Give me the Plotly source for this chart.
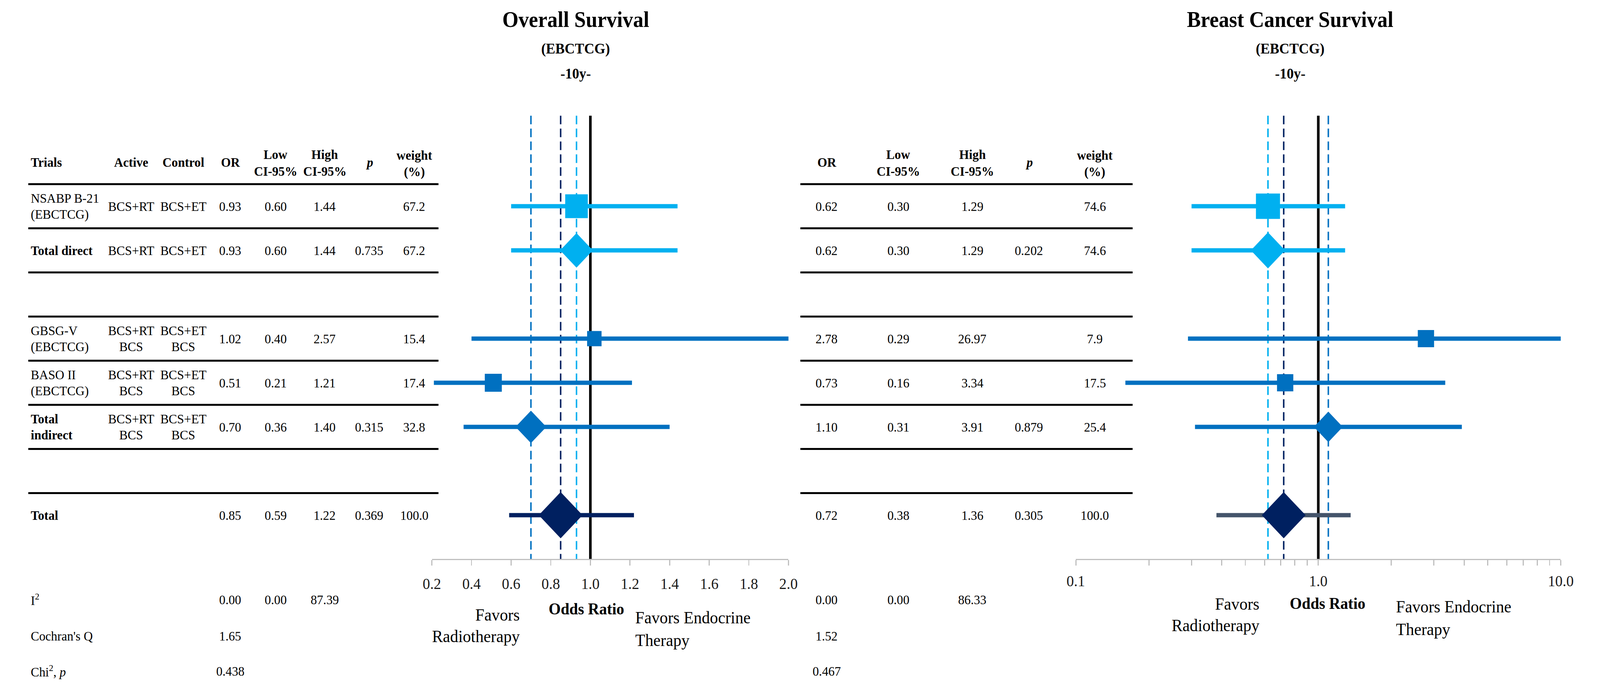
import math
import plotly.graph_objects as go

# ---------------- data ----------------
row_names = ["NSABP B-21|(EBCTCG)", "Total direct", "", "GBSG-V|(EBCTCG)",
             "BASO II|(EBCTCG)", "Total|indirect", "", "Total"]
row_bold = [False, True, False, False, False, True, False, True]
active = ["BCS+RT", "BCS+RT", "", "BCS+RT|BCS", "BCS+RT|BCS", "BCS+RT|BCS", "", ""]
control = ["BCS+ET", "BCS+ET", "", "BCS+ET|BCS", "BCS+ET|BCS", "BCS+ET|BCS", "", ""]
row_kind = ["study", "pooled", None, "study", "study", "pooled", None, "pooled"]
row_group = ["direct", "direct", None, "indirect", "indirect", "indirect", None, "total"]

# Overall survival (left)
os_or = [0.93, 0.93, None, 1.02, 0.51, 0.70, None, 0.85]
os_low = [0.60, 0.60, None, 0.40, 0.21, 0.36, None, 0.59]
os_high = [1.44, 1.44, None, 2.57, 1.21, 1.40, None, 1.22]
os_p = [None, 0.735, None, None, None, 0.315, None, 0.369]
os_weight = [67.2, 67.2, None, 15.4, 17.4, 32.8, None, 100.0]
os_i2 = [0.00, 0.00, 87.39]
os_q = 1.65
os_chi_p = 0.438

# Breast cancer survival (right)
bcs_or = [0.62, 0.62, None, 2.78, 0.73, 1.10, None, 0.72]
bcs_low = [0.30, 0.30, None, 0.29, 0.16, 0.31, None, 0.38]
bcs_high = [1.29, 1.29, None, 26.97, 3.34, 3.91, None, 1.36]
bcs_p = [None, 0.202, None, None, None, 0.879, None, 0.305]
bcs_weight = [74.6, 74.6, None, 7.9, 17.5, 25.4, None, 100.0]
bcs_i2 = [0.00, 0.00, 86.33]
bcs_q = 1.52
bcs_chi_p = 0.467

stat_labels = ["I<sup>2</sup>", "Cochran's Q", "Chi<sup>2</sup>, <i>p</i>"]

os_ticks = [0.2, 0.4, 0.6, 0.8, 1.0, 1.2, 1.4, 1.6, 1.8, 2.0]
bcs_ticks = [0.1, 0.2, 0.3, 0.4, 0.5, 0.6, 0.7, 0.8, 0.9, 1, 2, 3, 4, 5, 6, 7, 8, 9, 10]
bcs_major = [0.1, 1.0, 10.0]

# ---------------- layout constants (pixels) ----------------
W, H = 4322, 1782
ROW0, ROW_H = 528, 113
FONT = "Liberation Serif"
AX_ROW = 8.0            # row coordinate of the x axis line
LINE_TOP = -2.05        # row coordinate where vertical reference lines start

L_DOM = (1155, 2129.5)
R_DOM = (2915, 4240)

L_COLS = dict(name=57, active=333, control=476, OR=604, low=728, high=862, p=984, w=1107)
R_COLS = dict(OR=2234, low=2430, high=2632, p=2787, w=2967)
L_TABLE = (52, 1173)
R_TABLE = (2162, 3070)

COL = {"direct": "#00B0F0", "indirect": "#0070C0", "total": "#002060"}
L_SIZES = [61, 68, None, 39, 46, 64, None, 91]
R_SIZES = [65, 71, None, 44, 44, 60, None, 91]
L_CI_COL = {"direct": "#00B0F0", "indirect": "#0070C0", "total": "#002060"}
R_CI_COL = {"direct": "#00B0F0", "indirect": "#0070C0", "total": "#44546A"}


def row_of(px):
    return (px - ROW0) / ROW_H


fig = go.Figure()
ann = []
shapes = []


def text(t, xpx, yrow, size=34, bold=False, anchor="center", color="black"):
    if bold:
        t = "<b>" + t + "</b>"
    ann.append(dict(text=t, x=xpx / W, xref="paper", y=yrow, yref="y",
                    xanchor=anchor, yanchor="middle", showarrow=False,
                    font=dict(family=FONT, size=size, color=color)))


def cell(t, xpx, row, bold=False, anchor="center"):
    if not t:
        return
    parts = t.split("|")
    if len(parts) == 1:
        text(parts[0], xpx, row, bold=bold, anchor=anchor)
    else:
        d = 20.5 / ROW_H
        text(parts[0], xpx, row - d, bold=bold, anchor=anchor)
        text(parts[1], xpx, row + d, bold=bold, anchor=anchor)


def fmt(v, nd):
    return "" if v is None else f"{v:.{nd}f}"


# ---------------- tables ----------------
hdr_single = row_of(415)
cell("Trials", L_COLS["name"], hdr_single, bold=True, anchor="left")
cell("Active", L_COLS["active"], hdr_single, bold=True)
cell("Control", L_COLS["control"], hdr_single, bold=True)
for cols in (L_COLS, R_COLS):
    cell("OR", cols["OR"], hdr_single, bold=True)
    text("<b>Low</b>", cols["low"], row_of(395))
    text("<b>CI-95%</b>", cols["low"], row_of(438))
    text("<b>High</b>", cols["high"], row_of(395))
    text("<b>CI-95%</b>", cols["high"], row_of(438))
    text("<b><i>p</i></b>", cols["p"], hdr_single)
    text("<b>weight</b>", cols["w"], row_of(397))
    text("<b>(%)</b>", cols["w"], row_of(440))

for i in range(len(row_names)):
    cell(row_names[i], L_COLS["name"], i, bold=row_bold[i], anchor="left")
    cell(active[i], L_COLS["active"], i)
    cell(control[i], L_COLS["control"], i)
    for cols, orv, lo, hi, pv, wv in ((L_COLS, os_or, os_low, os_high, os_p, os_weight),
                                     (R_COLS, bcs_or, bcs_low, bcs_high, bcs_p, bcs_weight)):
        cell(fmt(orv[i], 2), cols["OR"], i)
        cell(fmt(lo[i], 2), cols["low"], i)
        cell(fmt(hi[i], 2), cols["high"], i)
        cell(fmt(pv[i], 3), cols["p"], i)
        cell(fmt(wv[i], 1), cols["w"], i)

# horizontal table rules
for i in range(len(row_names)):
    for x0, x1 in (L_TABLE, R_TABLE):
        shapes.append(dict(type="line", xref="paper", yref="y",
                           x0=x0 / W, x1=x1 / W, y0=i - 0.5, y1=i - 0.5,
                           line=dict(color="black", width=5)))

# heterogeneity statistics
stat_rows = [row_of(1535), row_of(1628), row_of(1718)]
for k, lab in enumerate(stat_labels):
    text(lab, L_COLS["name"], stat_rows[k], anchor="left")
for cols, i2, q, cp in ((L_COLS, os_i2, os_q, os_chi_p), (R_COLS, bcs_i2, bcs_q, bcs_chi_p)):
    text(fmt(i2[0], 2), cols["OR"], stat_rows[0])
    text(fmt(i2[1], 2), cols["low"], stat_rows[0])
    text(fmt(i2[2], 2), cols["high"], stat_rows[0])
    text(fmt(q, 2), cols["OR"], stat_rows[1])
    text(fmt(cp, 3), cols["OR"], stat_rows[2])

# ---------------- forest plots ----------------
panels = [("x", os_or, os_low, os_high, L_SIZES, L_CI_COL),
          ("x2", bcs_or, bcs_low, bcs_high, R_SIZES, R_CI_COL)]
for xa, orv, lo, hi, sizes, cicol in panels:
    for g, idx in (("direct", 1), ("indirect", 5), ("total", 7)):
        shapes.append(dict(type="line", xref=xa, yref="y", x0=orv[idx], x1=orv[idx],
                           y0=LINE_TOP, y1=AX_ROW, layer="below",
                           line=dict(color=COL[g], width=4, dash="22px,11px")))
    shapes.append(dict(type="line", xref=xa, yref="y", x0=1, x1=1,
                       y0=LINE_TOP, y1=AX_ROW, layer="below",
                       line=dict(color="black", width=7)))
    for i in range(len(orv)):
        if orv[i] is None:
            continue
        g = row_group[i]
        fig.add_trace(go.Scatter(x=[lo[i], hi[i]], y=[i, i], mode="lines", xaxis=xa, yaxis="y",
                                 line=dict(color=cicol[g], width=11), hoverinfo="skip",
                                 showlegend=False))
        fig.add_trace(go.Scatter(x=[orv[i]], y=[i], mode="markers", xaxis=xa, yaxis="y",
                                 marker=dict(symbol="square" if row_kind[i] == "study" else "diamond",
                                             size=sizes[i], color=COL[g], line=dict(width=0)),
                                 showlegend=False))

# labels of the logarithmic axis (major decades only); annotation x on a log axis is log10
for v in bcs_major:
    ann.append(dict(text=f"{v:.1f}", x=math.log10(v), xref="x2", y=row_of(1487), yref="y",
                    xanchor="center", yanchor="middle", showarrow=False,
                    font=dict(family=FONT, size=40, color="#1a1a1a")))


# ---------------- titles & axis labels ----------------
def ptext(t, xpx, ypx, size, bold=True, anchor="center"):
    if bold:
        t = "<b>" + t + "</b>"
    ann.append(dict(text=t, x=xpx / W, xref="paper", y=1 - ypx / H, yref="paper",
                    xanchor=anchor, yanchor="middle", showarrow=False,
                    font=dict(family=FONT, size=size, color="black")))


for cx, title in ((1548, "Overall Survival"), (3500, "Breast Cancer Survival")):
    ptext(title, cx, 50, 56)
    ptext("(EBCTCG)", cx, 124, 38)
    ptext("-10y-", cx, 188, 38)

for (fx_r, fx_l, oc, dy) in ((1397, 1709, 1577, 0), (3419, 3788, 3603, -28)):
    ptext("Favors", fx_r, 1574 + dy, 44, bold=False, anchor="right")
    ptext("Radiotherapy", fx_r, 1629 + dy, 44, bold=False, anchor="right")
    ptext("Odds Ratio", oc, 1559 + dy * 0.5, 42)
    ptext("Favors Endocrine", fx_l, 1581 + dy, 44, bold=False, anchor="left")
    ptext("Therapy", fx_l, 1639 + dy, 44, bold=False, anchor="left")

axis_common = dict(showgrid=False, zeroline=False, showline=True, linecolor="#BFBFBF",
                   linewidth=3, ticks="outside", ticklen=14, tickwidth=3, tickcolor="#BFBFBF",
                   anchor="free", position=1 - (ROW0 + AX_ROW * ROW_H) / H,
                   tickfont=dict(family=FONT, size=40, color="#1a1a1a"),
                   ticklabelstandoff=12, fixedrange=True, tickmode="array")

fig.update_layout(
    width=W, height=H, margin=dict(l=0, r=0, t=0, b=0),
    paper_bgcolor="white", plot_bgcolor="rgba(0,0,0,0)",
    showlegend=False,
    xaxis=dict(domain=[L_DOM[0] / W, L_DOM[1] / W], range=[0.2, 2.0],
               tickvals=os_ticks, ticktext=[f"{t:.1f}" for t in os_ticks], **axis_common),
    xaxis2=dict(domain=[R_DOM[0] / W, R_DOM[1] / W], type="log", range=[-1, 1.0002],
                tickvals=bcs_ticks, showticklabels=False, **axis_common),
    yaxis=dict(domain=[0, 1], range=[(H - ROW0) / ROW_H, -ROW0 / ROW_H], visible=False,
               fixedrange=True),
    annotations=ann,
    shapes=shapes,
)

# make the fixed-size figure fill the browser viewport exactly (no margin, no scrollbars)
fit_js = (
    "document.documentElement.style.margin='0';"
    "document.body.style.margin='0';"
    "document.body.style.overflow='hidden';"
    "var gd=document.getElementById('{plot_id}');"
    "var sx=window.innerWidth/" + str(W) + ", sy=window.innerHeight/" + str(H) + ";"
    "if (sx>0 && sy>0 && (Math.abs(sx-1)>0.002 || Math.abs(sy-1)>0.002)){"
    "gd.style.transformOrigin='0 0';"
    "gd.style.transform='scale('+sx+','+sy+')';}"
)

fig.write_html("out.html", config={"displayModeBar": False}, post_script=fit_js)
